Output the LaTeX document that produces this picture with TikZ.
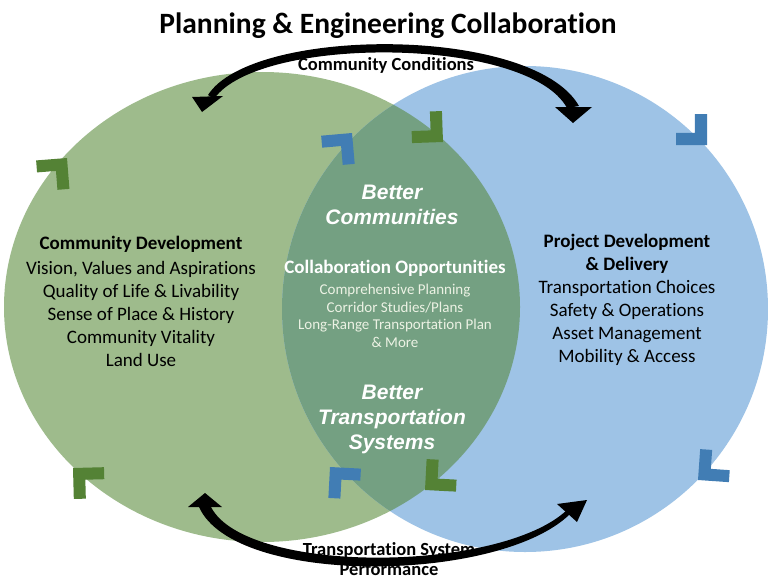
\documentclass[tikz,border=0pt]{standalone}
\usepackage{fontspec}
\setmainfont{Carlito}[Ligatures={NoCommon,NoRare,NoContextual}]
\newfontfamily\arialfont{Liberation Sans}
\definecolor{greenc}{RGB}{158,187,140}
\definecolor{bluec}{RGB}{158,195,230}
\definecolor{overc}{RGB}{116,160,130}
\definecolor{gchevc}{RGB}{84,130,53}
\definecolor{bchevc}{RGB}{65,125,180}
\definecolor{paletext}{RGB}{236,242,228}
\newcommand\chevron[4]{\fill[#4,shift={(#1,#2)},rotate=#3] (0,0) -- (-21.9,21.9) -- (-30.4,13.4) -- (-17,0) -- (-30.4,-13.4) -- (-21.9,-21.9) -- cycle;}
\begin{document}
\begin{tikzpicture}[x=1pt,y=-1pt,
  gchev/.style={fill=gchevc},
  bchev/.style={fill=bchevc},
  titletext/.style={font=\bfseries\fontsize{29.5}{34}\selectfont},
  arrowlabel/.style={font=\bfseries\fontsize{18.5}{22}\selectfont, align=center},
  headtext/.style={font=\bfseries\fontsize{19}{23}\selectfont},
  bodytext/.style={font=\fontsize{19}{23}\selectfont},
  smalltext/.style={font=\fontsize{15}{17.5}\selectfont, text=paletext},
  bettertext/.style={font=\arialfont\bfseries\itshape\fontsize{21}{25}\selectfont, text=white},
  arrowfill/.style={fill=black}
]
\useasboundingbox (0,0) rectangle (768,578);
\fill[white] (0,0) rectangle (768,578);
% circles
\fill[greenc] (262,307) ellipse [x radius=258, y radius=235];
\fill[bluec] (525,309) ellipse [x radius=243, y radius=243];
\begin{scope}
  \clip (262,307) ellipse [x radius=258, y radius=235];
  \fill[overc] (525,309) ellipse [x radius=243, y radius=243];
\end{scope}
% chevrons
\chevron{67}{158}{49.5}{gchev}
\chevron{73}{468}{136.5}{gchev}
\chevron{443}{142}{-43}{gchev}
\chevron{425}{490}{-138}{gchev}
\chevron{352}{133}{50}{bchev}
\chevron{707}{145}{-45}{bchev}
\chevron{698}{480}{-139}{bchev}
\chevron{330}{467}{132}{bchev}
% top curved arrow
\fill[arrowfill] (208,95) .. controls (252,26) and (533,25) .. (579,106)
   -- (567,108) .. controls (528,36) and (258,35) .. (214,99) -- cycle;
\fill[arrowfill] (202,112) -- (192,97) -- (223,96) -- cycle;
\fill[arrowfill] (573,123) -- (555,107) -- (592,107) -- cycle;
% bottom curved arrow
\fill[arrowfill] (199,507) .. controls (235,587) and (500,583) .. (570,514)
   -- (567,510) .. controls (500,573) and (246,575) .. (211,507) -- cycle;
\fill[arrowfill] (205,493) -- (188,507) -- (222,507) -- cycle;
\fill[arrowfill] (587,500) -- (557,504) -- (577,522) -- cycle;
% texts
\node[titletext] (title) at (388,26) {Planning \& Engineering Collaboration};
\node[arrowlabel] (cc) at (386,65) {Community Conditions};
\node[arrowlabel] (tsp1) at (389,550) {Transportation System};
\node[arrowlabel] (tsp2) at (389,569) {Performance};

\node[headtext] (cdh) at (141,244) {Community Development};
\node[bodytext, align=center, anchor=north] (cdb) at (141,258) {Vision, Values and Aspirations\\Quality of Life \& Livability\\Sense of Place \& History\\Community Vitality\\Land Use};

\node[headtext, align=center, anchor=north] (pdh) at (627,231) {Project Development\\\& Delivery};
\node[bodytext, align=center, anchor=north] (pdb) at (627,277) {Transportation Choices\\Safety \& Operations\\Asset Management\\Mobility \& Access};

\node[bettertext, align=center] (bc) at (392,205) {Better\\Communities};
\node[headtext, text=white] (co) at (395,268) {Collaboration Opportunities};
\node[smalltext, align=center, anchor=north] (col) at (395,281) {Comprehensive Planning\\Corridor Studies/Plans\\Long-Range Transportation Plan\\\& More};
\node[bettertext, align=center] (bt) at (392,419) {Better\\Transportation\\Systems};
\end{tikzpicture}
\end{document}
